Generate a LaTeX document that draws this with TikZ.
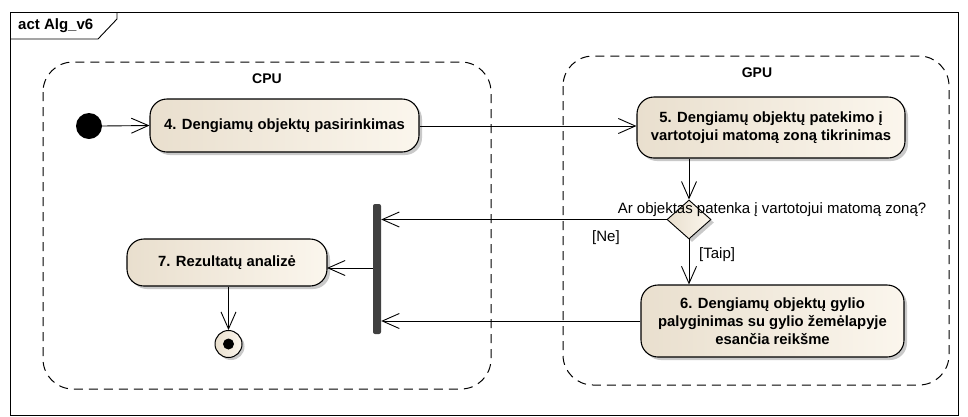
\documentclass[tikz,border=0pt]{standalone}
\usepackage{fontspec}
\setmainfont{Liberation Sans}
\usetikzlibrary{arrows.meta,shapes.geometric,shadows,calc}

\definecolor{actlight}{RGB}{251,246,237}
\definecolor{actdark}{RGB}{233,223,206}
\definecolor{bardark}{RGB}{64,64,64}

\tikzset{
  action/.style={draw=black, line width=1.1pt, rounded corners=17pt,
    left color=actdark, right color=actlight, align=center,
    font=\bfseries\fontsize{14.8}{18}\selectfont, inner sep=0pt,
    drop shadow={shadow xshift=3pt, shadow yshift=-3pt, fill=black!35, opacity=.6}},
  decision/.style={diamond, draw=black, line width=0.9pt, inner sep=0pt,
    minimum width=44pt, minimum height=39pt, aspect=1.1,
    left color=actdark, right color=actlight,
    drop shadow={shadow xshift=3pt, shadow yshift=-3pt, fill=black!35, opacity=.6}},
  partition/.style={draw=black, line width=1pt, dash pattern=on 9pt off 6pt, rounded corners=30pt},
  flow/.style={draw=black, line width=0.9pt, -{Straight Barb[length=17pt,width=15pt,line width=0.9pt]}},
  guard/.style={font=\fontsize{15}{18}\selectfont, inner sep=0pt},
  lanetitle/.style={font=\bfseries\fontsize{14}{17}\selectfont, inner sep=0pt},
}

\begin{document}
\begin{tikzpicture}[x=1pt, y=-1pt]
  % page area
  \path[use as bounding box, fill=white] (0,0) rectangle (968,416);

  % diagram frame with its name tab
  \draw[line width=0.9pt] (10,415) -- (10,12) -- (958,12) -- (958,415) -- cycle;
  \draw[line width=0.9pt] (10,39) -- (98,39) -- (117,19) -- (117,12);
  \node[font=\bfseries\fontsize{15}{18}\selectfont, anchor=west, inner sep=0pt] (frametitle) at (18,26) {act Alg\_v6};

  % partitions
  \draw[partition] (43,62) rectangle (491,389);
  \draw[partition] (563,56) rectangle (949,385);
  \node[lanetitle] (cpu) at (267,79) {CPU};
  \node[lanetitle] (gpu) at (757,73) {GPU};

  % initial and final nodes
  \node[circle, fill=black, minimum size=26pt, inner sep=0pt] (start) at (89,126) {};
  \node[circle, draw=black, line width=1pt, left color=actdark, right color=actlight,
        minimum size=27pt, inner sep=0pt,
        drop shadow={shadow xshift=2.5pt, shadow yshift=-2.5pt, fill=black!35, opacity=.6}] (final) at (228.5,344) {};
  \node[circle, fill=black, minimum size=11pt, inner sep=0pt] (finaldot) at (final.center) {};

  % actions
  \node[action, minimum width=269pt, minimum height=53pt] (a4) at (284.5,125.5)
    {4. Dengiamų objektų pasirinkimas};
  \node[action, minimum width=268pt, minimum height=61pt] (a5) at (771,127.5)
    {5. Dengiamų objektų patekimo į\\vartotojui matomą zoną tikrinimas};
  \node[action, minimum width=263pt, minimum height=72pt] (a6) at (772.5,321)
    {6. Dengiamų objektų gylio\\palyginimas su gylio žemėlapyje\\esančia reikšme};
  \node[action, minimum width=200pt, minimum height=47pt] (a7) at (227,262.5)
    {7. Rezultatų analizė};

  % decision and join bar
  \node[decision] (dec) at (689,219.5) {};
  \node[fill=bardark, rounded corners=2pt, minimum width=8pt, minimum height=130pt,
        inner sep=0pt] (bar) at (377,269) {};

  % connector anchor points
  \coordinate (joinout) at (373,268);
  \coordinate (a7in) at (327,268);

  % flows
  \draw[flow] (start.east) -- (a4.west);
  \draw[flow] (a4.east |- start.east) -- (a5.west |- start.east);
  \draw[flow] (a5.south -| dec.north) -- (dec.north);
  \draw[flow] (dec.west) -- (bar.east |- dec.west);
  \draw[flow] (dec.south) -- (a6.north -| dec.south);
  \draw[flow] (a6.west) -- (bar.east |- a6.west);
  \draw[flow] (joinout) -- (a7in);
  \draw[flow] (a7.south -| final.north) -- (final.north);

  % labels
  \node[guard] (q) at (772,210) {Ar objektas patenka į vartotojui matomą zoną?};
  \node[guard, anchor=west] (ne) at (592,238) {[Ne]};
  \node[guard, anchor=west] (taip) at (699,255) {[Taip]};
\end{tikzpicture}
\end{document}
